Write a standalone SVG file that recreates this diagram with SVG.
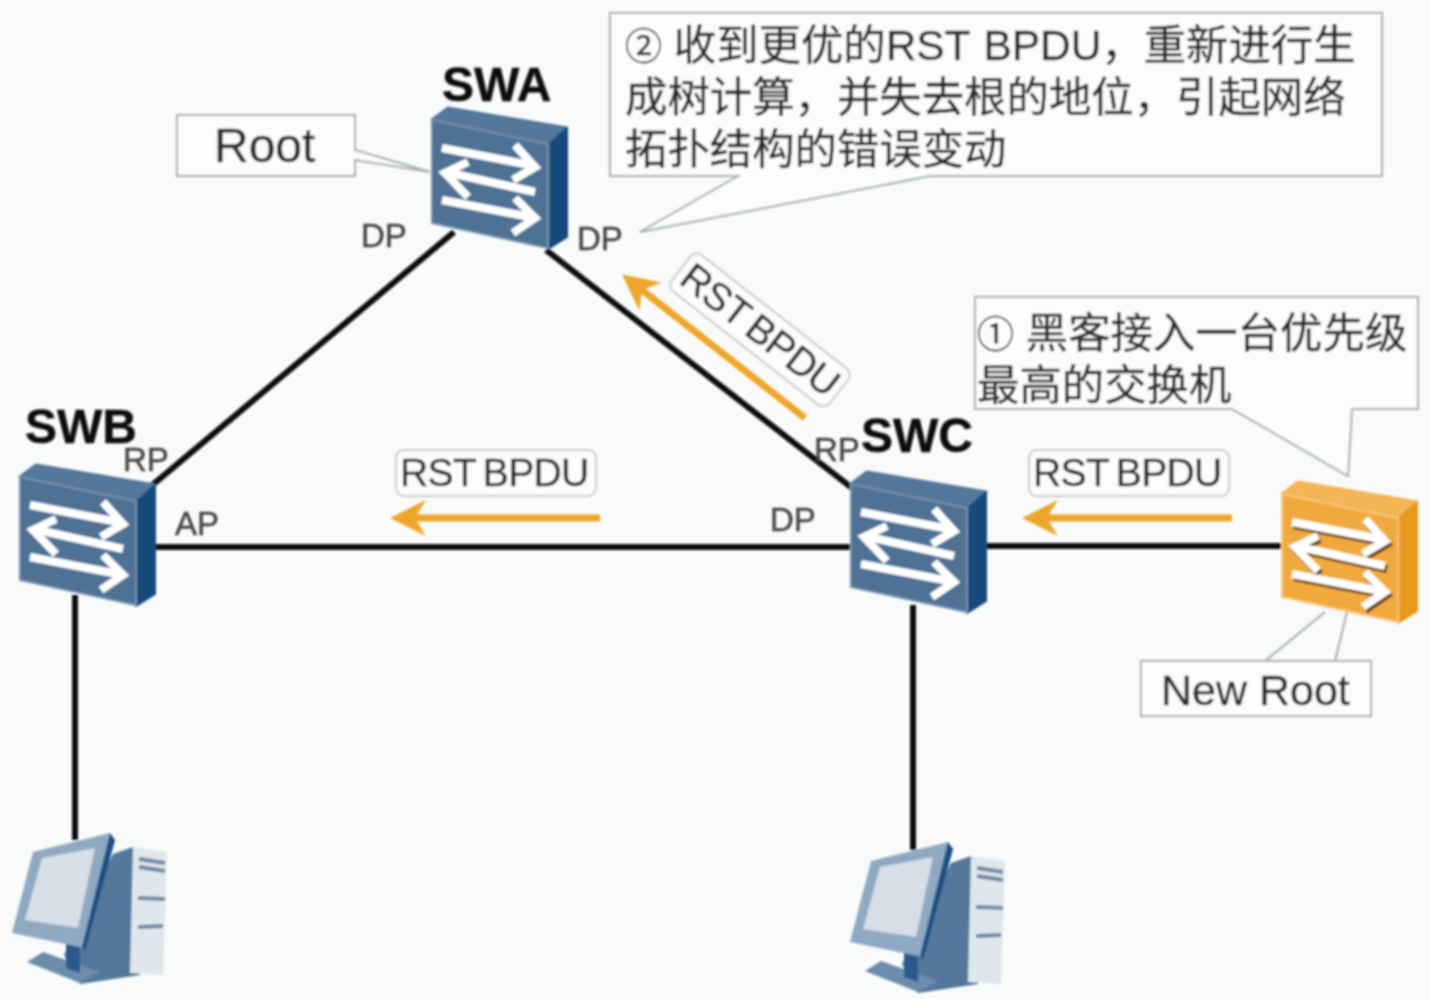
<svg xmlns="http://www.w3.org/2000/svg" xmlns:xlink="http://www.w3.org/1999/xlink" width="1430" height="999" viewBox="0 0 1430 999">
<style>
.lnk{stroke:#0a0a0a;stroke-width:6;fill:none}
.call{fill:#fbfdfc;stroke:#a9adad;stroke-width:2}
.t{font-family:"Liberation Sans","Noto Sans CJK SC",sans-serif;fill:#2a2a2a;stroke:#2a2a2a;stroke-width:.4}
.cn{font-size:42.4px}
.num{font-size:37px}
.port{font-size:33px;fill:#444;stroke:#444}
.name{font-size:48px;font-weight:bold;fill:#111;stroke:#111}
.tag{font-size:48px}
.rst{font-size:39px;letter-spacing:-.6px;word-spacing:-3px}
.pill{fill:#fbfdfb;stroke:#c9cccb;stroke-width:2}
.oa{fill:none;stroke:#eea62c;stroke-width:7}
.ar{fill:none;stroke-width:8;stroke-linejoin:miter}
</style>
<defs>
<filter id="soft" x="-5%" y="-5%" width="110%" height="110%"><feGaussianBlur stdDeviation="0.8"/></filter>
<path id="arrows" d="M10 40L98 57M83 37L103 59L81 72M103 84L18 65M36 54L13 65L36 89M10 92L98 109M83 90L103 110L81 125"/>
<g id="sw">
<path d="M16 0L135 20L116 37L0 12Z" fill="#54779a" stroke="#54779a" stroke-width="3" stroke-linejoin="round"/>
<path d="M135 20V129L116 141V37Z" fill="#17497c" stroke="#17497c" stroke-width="2" stroke-linejoin="round"/>
<path d="M0 12L116 36V140L0 115Z" fill="#4f7194" stroke="#7491ad" stroke-width="2"/>
<use xlink:href="#arrows" href="#arrows" class="ar" stroke="#fff"/>
</g>
<g id="swo">
<path d="M16 0L135 20L116 37L0 12Z" fill="#f3b557" stroke="#f3b557" stroke-width="3" stroke-linejoin="round"/>
<path d="M135 20V129L116 141V37Z" fill="#e8981f" stroke="#e8981f" stroke-width="2" stroke-linejoin="round"/>
<path d="M0 12L116 36V140L0 115Z" fill="#f0a93c" stroke="#f9c778" stroke-width="2"/>
<use xlink:href="#arrows" href="#arrows" class="ar" stroke="#6b3d10" transform="translate(2,3)"/>
<use xlink:href="#arrows" href="#arrows" class="ar" stroke="#fff"/>
</g>
<g id="pc">
<path d="M113 21L133 14L140 142L80 151L64 122Z" fill="#54779a"/>
<path d="M133 14L167 19L163 142L130 140Z" fill="#dfe6ec"/>
<path d="M139 26L165 30M139 34L165 38M138 65L165 66M138 94L163 93" stroke="#6e8aa5" stroke-width="4" fill="none"/>
<path d="M27 129L43 119L100 139L80 150Z" fill="#6c8cab"/>
<path d="M66 110H80V140L66 135Z" fill="#2a5a8c"/>
<path d="M33 19L110 0L115 7L85 115L12 100Z" fill="#8fa9c2"/>
<path d="M110 0L115 7L85 118L82 114Z" fill="#1d4f85"/>
<path d="M42 25L95 15L78 95L25 87Z" fill="#d7dee7"/>
</g>
<marker id="h" viewBox="0 0 10 10" refX="3" refY="5" markerUnits="userSpaceOnUse" markerWidth="36" markerHeight="36" orient="auto"><path d="M0 0L10 5L0 10L3 5Z" fill="#eea62c"/></marker>
</defs>
<rect width="1430" height="999" fill="#f8fbfa"/>
<g filter="url(#soft)">
<g id="connectors">
<path class="lnk" d="M454 232L150 487"/>
<path class="lnk" d="M546 250L852 488"/>
<path class="lnk" d="M155 547H851"/>
<path class="lnk" d="M985 546H1282"/>
<path class="lnk" d="M75 595V840"/>
<path class="lnk" d="M913 605V850"/>
</g>
<g id="swa"><use xlink:href="#sw" href="#sw" x="432" y="108"/><text class="t name" x="442" y="101">SWA</text></g>
<g id="swb"><use xlink:href="#sw" href="#sw" x="20" y="465"/><text class="t name" x="25" y="443">SWB</text></g>
<g id="swc"><use xlink:href="#sw" href="#sw" x="851" y="472"/><text class="t name" x="861" y="452">SWC</text></g>
<g id="new-root-switch"><use xlink:href="#swo" href="#swo" x="1282" y="482"/></g>
<g id="pc-b"><use xlink:href="#pc" href="#pc" x="0" y="833"/></g>
<g id="pc-c"><use xlink:href="#pc" href="#pc" x="838" y="842"/></g>
<g id="ports">
<text class="t port" x="361" y="247">DP</text>
<text class="t port" x="577" y="250">DP</text>
<text class="t port" x="123" y="471">RP</text>
<text class="t port" x="175" y="535">AP</text>
<text class="t port" x="770" y="531">DP</text>
<text class="t port" x="814" y="461">RP</text>
</g>
<g id="root-label">
<path class="call" d="M177 115H355V150L430 172L355 160V176H177Z"/>
<text class="t tag" x="214" y="162">Root</text>
</g>
<g id="new-root-label">
<path d="M1265 661L1325 612M1335 661L1347 612" stroke="#a9adad" stroke-width="2" fill="none"/>
<rect class="call" x="1141" y="661" width="230" height="55"/>
<text class="t" x="1161" y="705" style="font-size:43px">New Root</text>
</g>
<g id="callout-2">
<path class="call" d="M610 13H1382V176H930L640 232L738 176H610Z"/>
<text class="t cn" x="625" y="60"><tspan class="num">②</tspan> 收到更优的RST <tspan dx="2">BPDU</tspan>，重新进行生</text>
<text class="t cn" x="625" y="112">成树计算，并失去根的地位，引起网络</text>
<text class="t cn" x="625" y="164">拓扑结构的错误变动</text>
</g>
<g id="callout-1">
<path class="call" d="M975 297H1418V409H1352L1348 476L1232 409H975Z"/>
<text class="t cn" x="977" y="348"><tspan class="num">①</tspan> 黑客接入一台优先级</text>
<text class="t cn" x="977" y="400">最高的交换机</text>
</g>
<g id="bpdu-1">
<rect class="pill" x="396" y="450" width="200" height="46" rx="8"/>
<text class="t rst" x="400" y="486">RST BPDU</text>
<path class="oa" d="M600 518H415" marker-end="url(#h)"/>
</g>
<g id="bpdu-2">
<rect class="pill" x="1029" y="450" width="200" height="46" rx="8"/>
<text class="t rst" x="1033" y="486">RST BPDU</text>
<path class="oa" d="M1232 518H1047" marker-end="url(#h)"/>
</g>
<g id="bpdu-3">
<rect class="pill" x="-100" y="-23" width="200" height="46" rx="8" transform="translate(760,330) rotate(38)"/>
<text class="t rst" x="0" y="13" text-anchor="middle" transform="translate(760,330) rotate(38)">RST BPDU</text>
<path class="oa" d="M805 418L642 290" marker-end="url(#h)"/>
</g>
</g>
</svg>
